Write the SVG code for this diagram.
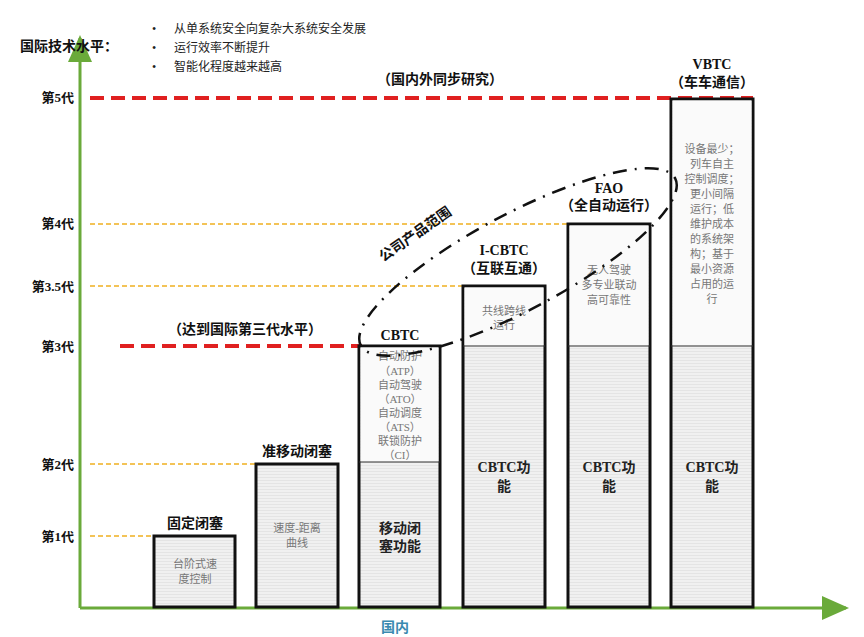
<svg xmlns="http://www.w3.org/2000/svg" width="864" height="637" viewBox="0 0 864 637">
<defs>
<style>
text{font-family:"Liberation Serif","Noto Sans CJK SC",serif;}
.b{font-weight:bold;font-size:14px;fill:#111;}
.lv{font-weight:bold;font-size:13px;fill:#111;text-anchor:end;}
.g{font-size:11px;fill:#777;text-anchor:middle;}
.f{font-weight:bold;font-size:14px;fill:#222;text-anchor:middle;}
.bar{stroke:#111;stroke-width:3;}
.lo{fill:url(#hatch);}
.hi{fill:#fafafa;}
.yl{stroke:#f0b020;stroke-width:1.3;stroke-dasharray:5 3;fill:none;}
.rd{stroke:#e02020;stroke-width:4;stroke-dasharray:14 7;fill:none;}
</style>
<pattern id="hatch" width="4" height="3" patternUnits="userSpaceOnUse"><rect width="4" height="3" fill="#f0f0f0"/><line x1="0" y1="0.5" x2="4" y2="0.5" stroke="#dcdcdc" stroke-width="0.6"/></pattern>
<marker id="ar" markerWidth="10" markerHeight="10" refX="8" refY="5" orient="auto"><path d="M0,1 L9,5 L0,9 z" fill="#6aaa3a"/></marker>
</defs>
<g id="axes">
<line x1="80" y1="608" x2="80" y2="38" stroke="#6aaa3a" stroke-width="3" marker-end="url(#ar)"/>
<line x1="80" y1="608" x2="846" y2="608" stroke="#6aaa3a" stroke-width="3" marker-end="url(#ar)"/>
<text x="395" y="632" font-size="14" font-weight="bold" fill="#3a8ab0" text-anchor="middle">国内</text>
<text x="20" y="51" class="b">国际技术水平：</text>
<g font-size="12" fill="#222"><text x="152" y="33">•</text><text x="174" y="33">从单系统安全向复杂大系统安全发展</text>
<text x="152" y="52">•</text><text x="174" y="52">运行效率不断提升</text>
<text x="152" y="71">•</text><text x="174" y="71">智能化程度越来越高</text></g>
</g>
<g id="levels">
<text x="74" y="102" class="lv">第5代</text>
<text x="74" y="228" class="lv">第4代</text>
<text x="74" y="291" class="lv">第3.5代</text>
<text x="74" y="351" class="lv">第3代</text>
<text x="74" y="469" class="lv">第2代</text>
<text x="74" y="541" class="lv">第1代</text>
<line x1="90" y1="224" x2="568" y2="224" class="yl"/>
<line x1="90" y1="286" x2="463" y2="286" class="yl"/>
<line x1="90" y1="464" x2="256" y2="464" class="yl"/>
<line x1="90" y1="536" x2="154" y2="536" class="yl"/>
<line x1="120" y1="346" x2="362" y2="346" class="rd"/>
<line x1="90" y1="98" x2="753" y2="98" class="rd"/>
<text x="440" y="84" class="b" text-anchor="middle">（国内外同步研究）</text>
<text x="245" y="334" class="b" text-anchor="middle">（达到国际第三代水平）</text>
</g>
<g id="bar1">
<rect x="154" y="536" width="81" height="71" class="bar lo"/>
<text x="195" y="528" class="b" text-anchor="middle">固定闭塞</text>
<text x="195" y="568" class="g">台阶式速</text><text x="195" y="583" class="g">度控制</text>
</g>
<g id="bar2">
<rect x="256" y="464" width="82" height="143" class="bar lo"/>
<text x="297" y="456" class="b" text-anchor="middle">准移动闭塞</text>
<text x="297" y="532" class="g">速度-距离</text><text x="297" y="547" class="g">曲线</text>
</g>
<g id="bar3">
<rect x="359" y="346" width="81" height="261" class="bar lo"/>
<rect x="360.5" y="347.5" width="78" height="114" class="hi"/>
<line x1="359" y1="462" x2="440" y2="462" stroke="#333"/>
<text x="400" y="340" class="b" text-anchor="middle">CBTC</text>
<text x="400" y="360" class="g">自动防护</text><text x="400" y="375" class="g">（ATP）</text>
<text x="400" y="389" class="g">自动驾驶</text><text x="400" y="403" class="g">（ATO）</text>
<text x="400" y="417" class="g">自动调度</text><text x="400" y="431" class="g">（ATS）</text>
<text x="400" y="445" class="g">联锁防护</text><text x="400" y="459" class="g">（CI）</text>
<text x="400" y="533" class="f">移动闭</text><text x="400" y="551" class="f">塞功能</text>
</g>
<g id="bar4">
<rect x="463" y="286" width="82" height="321" class="bar lo"/>
<rect x="464.5" y="287.5" width="79" height="58" class="hi"/>
<line x1="463" y1="346" x2="545" y2="346" stroke="#333"/>
<text x="504" y="255" class="b" text-anchor="middle">I-CBTC</text>
<text x="504" y="273" class="b" text-anchor="middle">（互联互通）</text>
<text x="504" y="315" class="g">共线跨线</text><text x="504" y="329" class="g">运行</text>
<text x="504" y="472" class="f">CBTC功</text><text x="504" y="491" class="f">能</text>
</g>
<g id="bar5">
<rect x="568" y="224" width="82" height="383" class="bar lo"/>
<rect x="569.5" y="225.5" width="79" height="120" class="hi"/>
<line x1="568" y1="346" x2="650" y2="346" stroke="#333"/>
<text x="609" y="193" class="b" text-anchor="middle">FAO</text>
<text x="609" y="210" class="b" text-anchor="middle">（全自动运行）</text>
<text x="609" y="274" class="g">无人驾驶</text><text x="609" y="289" class="g">多专业联动</text><text x="609" y="304" class="g">高可靠性</text>
<text x="609" y="472" class="f">CBTC功</text><text x="609" y="491" class="f">能</text>
</g>
<g id="bar6">
<rect x="671" y="99" width="82" height="508" class="bar lo"/>
<rect x="672.5" y="100.5" width="79" height="245" class="hi"/>
<line x1="671" y1="346" x2="753" y2="346" stroke="#333"/>
<text x="712" y="69" class="b" text-anchor="middle">VBTC</text>
<text x="712" y="87" class="b" text-anchor="middle">（车车通信）</text>
<g class="g"><text x="712" y="153">设备最少；</text><text x="712" y="168">列车自主</text><text x="712" y="183">控制调度；</text><text x="712" y="198">更小间隔</text><text x="712" y="213">运行；低</text><text x="712" y="228">维护成本</text><text x="712" y="243">的系统架</text><text x="712" y="258">构；基于</text><text x="712" y="273">最小资源</text><text x="712" y="288">占用的运</text><text x="712" y="303">行</text></g>
<text x="712" y="472" class="f">CBTC功</text><text x="712" y="491" class="f">能</text>
</g>
<g id="scope">
<ellipse cx="518" cy="262" rx="178" ry="48" transform="rotate(-28 518 262)" fill="none" stroke="#111" stroke-width="2.5" stroke-dasharray="14 8 2 8"/>
<text x="418" y="238" class="b" font-size="15" text-anchor="middle" transform="rotate(-35 418 238)">公司产品范围</text>
</g>
</svg>
